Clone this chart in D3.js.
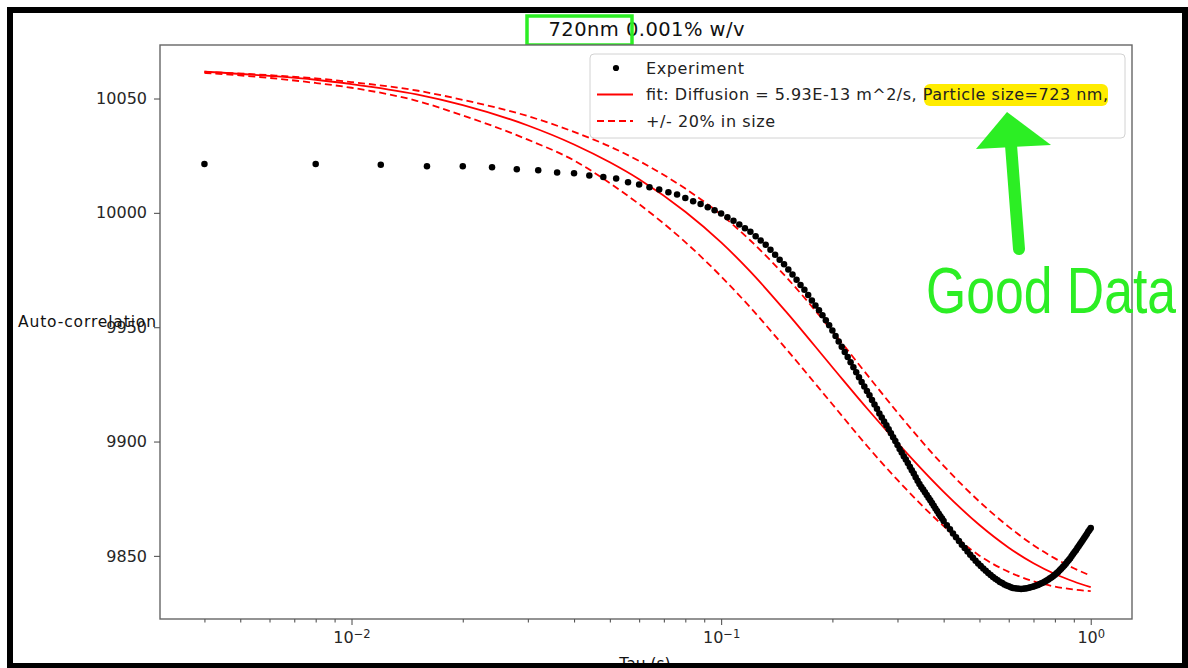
<!DOCTYPE html>
<html>
<head>
<meta charset="utf-8">
<script src="https://cdn.jsdelivr.net/npm/d3@7"></script>
<style>
  body { margin: 0; background: #fff; }
  svg { display: block; font-family: "DejaVu Sans", sans-serif; }
</style>
</head>
<body>
<svg class="chart" width="1188" height="668"></svg>
<script>
// measured correlation (tau in s)
var expTau = [
  0.004,0.008,0.012,0.016,0.02,0.024,0.028,0.032,0.036,0.04,
  0.044,0.048,0.052,0.056,0.06,0.064,0.068,0.072,0.076,0.08,
  0.084,0.088,0.092,0.096,0.1,0.104,0.108,0.112,0.116,0.12,
  0.124,0.128,0.132,0.136,0.14,0.144,0.148,0.152,0.156,0.16,
  0.164,0.168,0.172,0.176,0.18,0.184,0.188,0.192,0.196,0.2,
  0.204,0.208,0.212,0.216,0.22,0.224,0.228,0.232,0.236,0.24,
  0.244,0.248,0.252,0.256,0.26,0.264,0.268,0.272,0.276,0.28,
  0.284,0.288,0.292,0.296,0.3,0.304,0.308,0.312,0.316,0.32,
  0.324,0.328,0.332,0.336,0.34,0.344,0.348,0.352,0.356,0.36,
  0.364,0.368,0.372,0.376,0.38,0.384,0.388,0.392,0.396,0.4,
  0.408,0.416,0.424,0.432,0.44,0.448,0.456,0.464,0.472,0.48,
  0.488,0.496,0.504,0.512,0.52,0.528,0.536,0.544,0.552,0.56,
  0.568,0.576,0.584,0.592,0.6,0.608,0.616,0.624,0.632,0.64,
  0.648,0.656,0.664,0.672,0.68,0.688,0.696,0.704,0.712,0.72,
  0.728,0.736,0.744,0.752,0.76,0.768,0.776,0.784,0.792,0.8,
  0.808,0.816,0.824,0.832,0.84,0.848,0.856,0.864,0.872,0.88,
  0.888,0.896,0.904,0.912,0.92,0.928,0.936,0.944,0.952,0.96,
  0.968,0.976,0.984,0.992,1.0
];
var expValue = [
  10021.4,10021.4,10021.0,10020.4,10020.4,10019.9,10019.1,10018.6,10017.7,10017.3,
  10016.3,10015.7,10015.0,10013.4,10012.4,10011.2,10010.2,10009.0,10008.0,10006.5,
  10005.1,10003.9,10002.4,10001.1,9999.7,9998.1,9996.5,9994.9,9993.3,9991.7,
  9989.8,9987.9,9986.0,9983.9,9981.7,9979.5,9977.5,9975.2,9973.0,9970.8,
  9968.5,9966.4,9964.1,9961.7,9959.5,9957.4,9955.2,9953.0,9950.8,9948.6,
  9946.2,9943.7,9941.4,9939.2,9937.0,9934.7,9932.5,9930.3,9928.1,9926.0,
  9924.1,9922.1,9920.2,9918.2,9916.2,9914.3,9912.3,9910.5,9908.8,9907.1,
  9905.4,9903.6,9901.9,9900.2,9898.5,9896.7,9895.2,9893.6,9892.1,9890.6,
  9889.0,9887.5,9886.0,9884.4,9882.9,9881.4,9880.1,9879.0,9877.8,9876.6,
  9875.4,9874.3,9873.1,9871.9,9870.7,9869.6,9868.4,9867.3,9866.3,9865.3,
  9863.4,9861.6,9859.8,9858.1,9856.5,9854.9,9853.4,9851.9,9850.5,9849.2,
  9847.9,9846.7,9845.6,9844.5,9843.5,9842.5,9841.6,9840.8,9840.0,9839.3,
  9838.6,9838.1,9837.5,9837.1,9836.7,9836.3,9836.0,9835.8,9835.7,9835.6,
  9835.5,9835.6,9835.7,9835.9,9836.1,9836.3,9836.5,9836.7,9837.0,9837.3,
  9837.7,9838.0,9838.4,9838.8,9839.2,9839.7,9840.2,9840.7,9841.2,9841.8,
  9842.4,9843.0,9843.7,9844.4,9845.1,9845.8,9846.6,9847.4,9848.2,9849.0,
  9849.9,9850.8,9851.7,9852.5,9853.4,9854.3,9855.2,9856.1,9856.9,9857.8,
  9858.7,9859.6,9860.5,9861.3,9862.2
];

var fitTau = [0.004,0.006,0.008,0.01,0.015,0.02,0.03,0.04,0.05,0.06,0.08,0.1,
              0.12,0.15,0.2,0.25,0.3,0.4,0.5,0.6,0.7,0.8,0.9,1.0];
var fitValue = [10061.7,10059.9,10058.2,10056.3,10051.8,10047.1,10038.2,10029.9,10022.1,10014.7,10000.5,9987.1,
                9974.3,9956.7,9932.5,9913.9,9899.4,9878.0,9863.5,9853.6,9846.8,9842.1,9838.8,9836.3];
var plus20Value = [10061.7,10060.2,10058.8,10057.2,10053.5,10049.4,10042.3,10035.4,10029.0,10022.7,10010.6,9999.2,
                   9987.9,9971.9,9948.2,9928.6,9912.7,9889.4,9873.7,9862.7,9854.7,9848.9,9844.6,9841.3];
var minus20Value = [10061.2,10059.0,10056.8,10054.7,10049.0,10042.6,10032.0,10022.9,10013.0,10003.8,9987.2,9972.2,
                    9958.6,9940.5,9916.3,9897.5,9883.2,9863.0,9850.1,9843.0,9838.9,9836.6,9835.3,9834.6];

var yTicks = [9850, 9900, 9950, 10000, 10050];
var xTicks = [0.01, 0.1, 1];
var xTickExp = ["\u22122", "\u22121", "0"];
var xMinor = [0.004,0.005,0.006,0.007,0.008,0.009,0.02,0.03,0.04,0.05,0.06,0.07,0.08,0.09,
              0.2,0.3,0.4,0.5,0.6,0.7,0.8,0.9];

var chartTitle = "720nm 0.001% w/v";
var legendLabels = ["Experiment", "fit: Diffusion = 5.93E-13 m^2/s, Particle size=723 nm,", "+/- 20% in size"];

var plotLeft = 160, plotRight = 1132, plotTop = 45, plotBottom = 619;
var green = "#2cee24";

var svg = d3.select(".chart");

var x = d3.scaleLog()
	.domain([0.003033, 1.2931])
	.range([plotLeft, plotRight]);
var y = d3.scaleLinear()
	.domain([9822.4, 10073.4])
	.range([plotBottom, plotTop]);

svg.append("rect")
	.attr("width", 1188).attr("height", 668)
	.attr("fill", "#fff");

// title with the green box drawn round part of it
svg.append("text")
	.attr("x", 646.5)
	.attr("y", 36)
	.attr("text-anchor", "middle")
	.attr("font-size", 19.5)
	.attr("textLength", 196)
	.attr("fill", "#111")
	.text(chartTitle);

svg.append("rect")
	.attr("x", 527).attr("y", 16)
	.attr("width", 105).attr("height", 29)
	.attr("fill", "none")
	.attr("stroke", green)
	.attr("stroke-width", 3.5);

// plot frame
svg.append("rect")
	.attr("x", plotLeft).attr("y", plotTop)
	.attr("width", plotRight - plotLeft)
	.attr("height", plotBottom - plotTop)
	.attr("fill", "#fff")
	.attr("stroke", "#666")
	.attr("stroke-width", 1.4);

// lines
function curveData(values) {
	return fitTau.map(function(t, i) { return {t: t, v: values[i]}; });
}
var line = d3.line()
	.x(function(d) { return x(d.t); })
	.y(function(d) { return y(d.v); })
	.curve(d3.curveMonotoneX);

svg.append("path")
	.datum(curveData(fitValue))
	.attr("d", line)
	.attr("fill", "none")
	.attr("stroke", "#ff0000")
	.attr("stroke-width", 1.8);

[plus20Value, minus20Value].forEach(function(vals) {
	svg.append("path")
		.datum(curveData(vals))
		.attr("d", line)
		.attr("fill", "none")
		.attr("stroke", "#ff0000")
		.attr("stroke-width", 1.8)
		.attr("stroke-dasharray", "7,4");
});

// experiment points
svg.append("g").selectAll("circle")
	.data(expTau.map(function(t, i) { return {t: t, v: expValue[i]}; }))
	.enter().append("circle")
	.attr("cx", function(d) { return x(d.t); })
	.attr("cy", function(d) { return y(d.v); })
	.attr("r", 3.25)
	.attr("fill", "#000");

// axes
var yAxis = svg.append("g")
	.attr("transform", "translate(" + plotLeft + ",0)")
	.call(d3.axisLeft(y).tickValues(yTicks).tickSize(6).tickPadding(7).tickFormat(d3.format("d")));

var xAxis = svg.append("g")
	.attr("transform", "translate(0," + plotBottom + ")")
	.call(d3.axisBottom(x).tickValues(xTicks).tickSize(6).tickPadding(7).tickFormat(function() { return ""; }));

svg.append("g")
	.attr("transform", "translate(0," + plotBottom + ")")
	.call(d3.axisBottom(x).tickValues(xMinor).tickSize(3.5).tickFormat(function() { return ""; }))
	.select(".domain").remove();

[yAxis, xAxis].forEach(function(ax) {
	ax.select(".domain").remove();
	ax.selectAll(".tick text").attr("font-size", 16).attr("fill", "#262626")
		.attr("font-family", "DejaVu Sans");
});
svg.selectAll(".tick line").attr("stroke", "#555").attr("stroke-width", 1.1);

xAxis.selectAll(".tick text").each(function(d, i) {
	var t = d3.select(this);
	t.text("10");
	t.append("tspan")
		.attr("dy", "-0.45em")
		.attr("font-size", "0.72em")
		.text(xTickExp[i]);
});

// axis labels
svg.append("text")
	.attr("x", 18).attr("y", 322)
	.attr("dy", "0.35em")
	.attr("font-size", 15.5)
	.attr("textLength", 138)
	.attr("fill", "#111")
	.text("Auto-correlation");

svg.append("text")
	.attr("x", 645).attr("y", 669)
	.attr("text-anchor", "middle")
	.attr("font-size", 15.5)
	.attr("fill", "#111")
	.text("Tau (s)");

// legend
var legend = svg.append("g");
legend.append("rect")
	.attr("x", 590).attr("y", 54)
	.attr("width", 535).attr("height", 84)
	.attr("rx", 4)
	.attr("fill", "#fff").attr("fill-opacity", 0.85)
	.attr("stroke", "#d2d2d2");

legend.append("rect")
	.attr("x", 924).attr("y", 84)
	.attr("width", 184).attr("height", 22)
	.attr("rx", 6)
	.attr("fill", "#ffec00");

var rows = [68, 94.5, 121];
var labelWidths = [98, 462, 129];
legend.append("circle")
	.attr("cx", 616).attr("cy", rows[0]).attr("r", 3.1).attr("fill", "#000");
legend.append("line")
	.attr("x1", 597).attr("x2", 633).attr("y1", rows[1]).attr("y2", rows[1])
	.attr("stroke", "#ff0000").attr("stroke-width", 1.8);
legend.append("line")
	.attr("x1", 597).attr("x2", 633).attr("y1", rows[2]).attr("y2", rows[2])
	.attr("stroke", "#ff0000").attr("stroke-width", 1.8)
	.attr("stroke-dasharray", "7,4");

legend.selectAll(".label")
	.data(legendLabels)
	.enter().append("text")
	.attr("class", "label")
	.attr("x", 646)
	.attr("y", function(d, i) { return rows[i]; })
	.attr("dy", "0.35em")
	.attr("font-size", 16)
	.attr("textLength", function(d, i) { return labelWidths[i]; })
	.attr("fill", "#222")
	.text(function(d) { return d; });

// green annotation
svg.append("line")
	.attr("x1", 1010).attr("y1", 132)
	.attr("x2", 1019).attr("y2", 249)
	.attr("stroke", green)
	.attr("stroke-width", 12)
	.attr("stroke-linecap", "round");
svg.append("polygon")
	.attr("points", "1007,112 976,149 1051,145")
	.attr("fill", green);

svg.append("text")
	.attr("x", 926).attr("y", 313)
	.attr("font-family", "Liberation Sans, Arial, sans-serif")
	.attr("font-size", 64)
	.attr("textLength", 250)
	.attr("lengthAdjust", "spacingAndGlyphs")
	.attr("fill", green)
	.text("Good Data");

// outer black frame
svg.append("rect")
	.attr("x", 10).attr("y", 10)
	.attr("width", 1175).attr("height", 656)
	.attr("fill", "none")
	.attr("stroke", "#000")
	.attr("stroke-width", 6);
</script>
</body>
</html>
